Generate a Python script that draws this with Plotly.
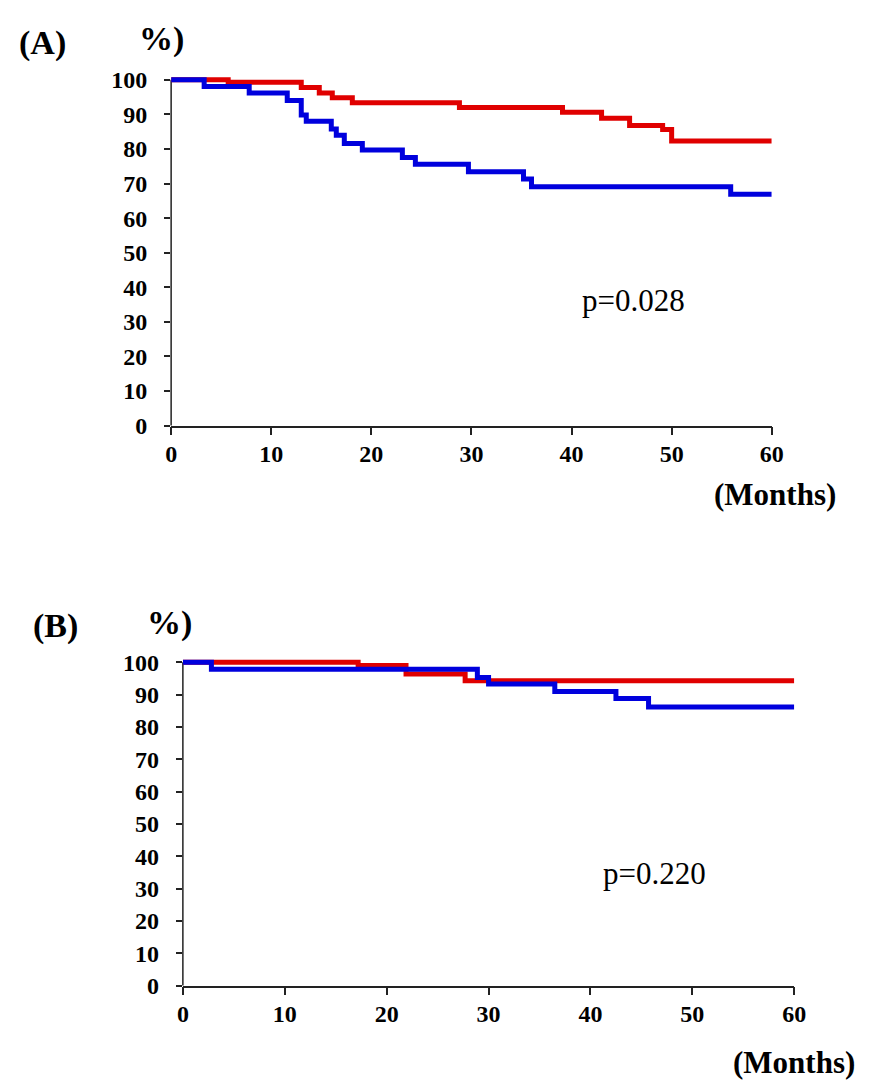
import plotly.graph_objects as go

# ---------------- data ----------------
# Panel A
a_red_t = [0, 5.7, 13.0, 14.8, 16.1, 18.1, 28.8, 39.1, 43.0, 45.8, 49.1, 50.0, 60]
a_red_s = [100, 99.3, 97.8, 96.2, 94.8, 93.4, 92.0, 90.6, 88.9, 86.8, 85.6, 82.3, 82.3]
a_blue_t = [0, 3.3, 7.8, 11.6, 13.0, 13.5, 16.0, 16.5, 17.3, 19.1, 23.1, 24.4, 29.7, 35.2, 36.0, 55.9, 60]
a_blue_s = [100, 98.1, 96.2, 94.0, 89.8, 88.0, 85.8, 84.0, 81.6, 79.7, 77.5, 75.6, 73.4, 71.3, 69.1, 66.9, 66.9]
# Panel B
b_red_t = [0, 17.2, 21.9, 27.7, 60]
b_red_s = [100, 99.0, 96.4, 94.3, 94.3]
b_blue_t = [0, 2.8, 28.9, 30.0, 36.5, 42.5, 45.7, 60]
b_blue_s = [100, 97.9, 95.3, 93.3, 91.0, 88.8, 86.2, 86.2]

x_ticks = [0, 10, 20, 30, 40, 50, 60]
y_ticks = [0, 10, 20, 30, 40, 50, 60, 70, 80, 90, 100]
p_a = "p=0.028"
p_b = "p=0.220"

RED = "#e00000"
BLUE = "#0000dd"
FONT = "Liberation Serif"
# page body keeps its default 8px margin, so the figure is sized to fit the window exactly
OFF = 8
W, H = 873 - 2 * OFF, 1092 - 2 * OFF


def px(x):
    return (x - OFF) / W


def py(y):
    return 1 - (y - OFF) / H


YMAX = 102
A_x = [px(168.5), px(782)]
A_y = [py(427), py(75 - 2 * 3.52)]
B_x = [px(180.5), px(805)]
B_y = [py(997), py(668 - 2 * 3.29)]

fig = go.Figure()
for t, s, c, xa, ya in [
    (a_red_t, a_red_s, RED, "x", "y"),
    (a_blue_t, a_blue_s, BLUE, "x", "y"),
    (b_red_t, b_red_s, RED, "x2", "y2"),
    (b_blue_t, b_blue_s, BLUE, "x2", "y2"),
]:
    fig.add_trace(go.Scatter(x=t, y=s, mode="lines", line=dict(color=c, width=5, shape="hv"),
                             xaxis=xa, yaxis=ya, showlegend=False, hoverinfo="skip"))

tickfont = dict(family=FONT, size=24, color="black", weight="bold")
xcommon = dict(range=[0, 60], tickvals=x_ticks, ticks="outside", ticklen=8, tickwidth=1.5,
               tickcolor="#222", showline=True, linewidth=1.5, linecolor="#222",
               showgrid=False, zeroline=False, tickfont=tickfont, ticklabelstandoff=-2)
ycommon = dict(range=[0, YMAX], tickvals=y_ticks, ticks="outside", ticklen=6, tickwidth=1.5,
               tickcolor="#222", showline=False, showgrid=False, zeroline=False,
               tickfont=tickfont, ticklabelstandoff=12)

fig.update_layout(
    width=W, height=H, margin=dict(l=0, r=0, t=0, b=0),
    paper_bgcolor="white", plot_bgcolor="white",
    xaxis=dict(domain=A_x, anchor="y", **xcommon),
    yaxis=dict(domain=A_y, anchor="x", **ycommon),
    xaxis2=dict(domain=B_x, anchor="y2", **xcommon),
    yaxis2=dict(domain=B_y, anchor="x2", **ycommon),
)

for xd, yd in [(A_x, A_y), (B_x, B_y)]:
    top = yd[0] + (yd[1] - yd[0]) * 100 / YMAX
    fig.add_shape(type="line", xref="paper", yref="paper", x0=xd[0], x1=xd[0], y0=yd[0], y1=top,
                  line=dict(color="#222", width=1.5), layer="below")

ann = [
    ("(A)", 37, 38, 34, "bold"),
    ("%)", 159, 33, 34, "bold"),
    (p_a, 641, 300, 31, "normal"),
    ("(Months)", 785, 497, 31, "bold"),
    ("(B)", 50, 631, 34, "bold"),
    ("%)", 167, 628, 34, "bold"),
    (p_b, 662, 883, 31, "normal"),
    ("(Months)", 805, 1075, 31, "bold"),
]
for text, x, y, size, wgt in ann:
    fig.add_annotation(text=text, x=px(x), y=py(y), xref="paper", yref="paper",
                       xanchor="center", yanchor="middle", showarrow=False,
                       font=dict(family=FONT, size=size, color="black", weight=wgt))

fig.write_html("out.html", config={"displayModeBar": False})
